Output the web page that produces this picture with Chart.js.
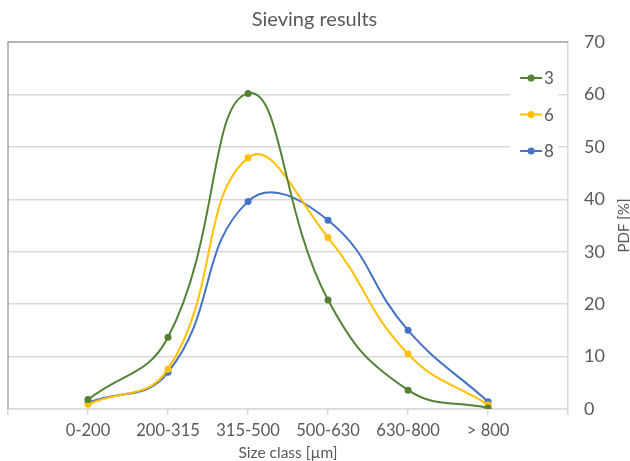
<!DOCTYPE html>
<html>
<head>
<meta charset="utf-8">
<script src="https://cdn.jsdelivr.net/npm/chart.js@4/dist/chart.umd.min.js"></script>
<style>
    html, body { margin: 0; padding: 0; background: #fff; }
    #wrap { width: 630px; height: 461px; }
</style>
</head>
<body>
<div id="wrap"><canvas id="chart"></canvas></div>
<script>
// Data
const sizeClasses = ['0-200', '200-315', '315-500', '500-630', '630-800', '> 800'];
const seriesNames = ['3', '6', '8'];
const pdf3 = [1.8, 13.7, 60.2, 20.8, 3.6, 0.2];
const pdf6 = [0.9, 7.6, 47.9, 32.7, 10.5, 0.8];
const pdf8 = [1.2, 7.0, 39.6, 36.0, 15.0, 1.4];
const yTicks = [0, 10, 20, 30, 40, 50, 60, 70];

const colors = ['#548235', '#FFC000', '#4472C4'];
const textColor = '#595959';
const fontFamily = 'Lato, "Open Sans", sans-serif';

function toPoints(values) {
    return values.map((v, i) => ({ x: i, y: v }));
}

// Frame around the plot, like the Excel chart
const framePlugin = {
    id: 'frame',
    beforeDatasetsDraw(chart) {
        const { ctx, chartArea: a } = chart;
        ctx.save();
        ctx.lineWidth = 1.5;
        ctx.strokeStyle = '#a6a6a6';
        ctx.beginPath();
        ctx.moveTo(a.left, a.bottom);
        ctx.lineTo(a.left, a.top);
        ctx.lineTo(a.right, a.top);
        ctx.stroke();
        ctx.restore();
    }
};

// Legend drawn inside the plot, top right
const innerLegend = {
    id: 'innerLegend',
    afterDraw(chart) {
        const { ctx, chartArea: a } = chart;
        const x0 = a.right - 54;
        ctx.save();
        ctx.fillStyle = '#fff';
        ctx.fillRect(x0 - 4, a.top + 20, 48, 108);
        chart.data.datasets.forEach((ds, i) => {
            const y = a.top + 36 + i * 36.5;
            ctx.strokeStyle = ds.borderColor;
            ctx.lineWidth = 2;
            ctx.beginPath();
            ctx.moveTo(x0 + 6, y);
            ctx.lineTo(x0 + 28, y);
            ctx.stroke();
            ctx.fillStyle = ds.borderColor;
            ctx.beginPath();
            ctx.arc(x0 + 17, y, 3.5, 0, Math.PI * 2);
            ctx.fill();
            ctx.fillStyle = textColor;
            ctx.font = '17px ' + fontFamily;
            ctx.textBaseline = 'middle';
            ctx.fillText(ds.label, x0 + 30, y + 1);
        });
        ctx.restore();
    }
};

// Right-side axis title, reading bottom to top
const yTitle = {
    id: 'yTitle',
    afterDraw(chart) {
        const { ctx, chartArea: a } = chart;
        ctx.save();
        ctx.translate(chart.width - 6, (a.top + a.bottom) / 2);
        ctx.rotate(-Math.PI / 2);
        ctx.fillStyle = textColor;
        ctx.font = '15px ' + fontFamily;
        ctx.textAlign = 'center';
        ctx.textBaseline = 'middle';
        ctx.fillText('PDF [%]', 0, 0);
        ctx.restore();
    }
};

const seriesValues = [pdf3, pdf6, pdf8];

const ctx = document.getElementById('chart').getContext('2d');
new Chart(ctx, {
    type: 'line',
    data: {
        datasets: seriesNames.map((name, i) => ({
            label: name,
            data: toPoints(seriesValues[i]),
            borderColor: colors[i],
            backgroundColor: colors[i],
            borderWidth: 2,
            pointRadius: 3.5,
            pointBorderWidth: 0,
            tension: 0.45,
            fill: false
        }))
    },
    options: {
        responsive: true,
        maintainAspectRatio: false,
        animation: false,
        layout: {
            padding: { left: 8, right: 9, top: 0, bottom: 0 }
        },
        plugins: {
            legend: { display: false },
            tooltip: { enabled: false },
            title: {
                display: true,
                text: 'Sieving results',
                color: textColor,
                font: { family: fontFamily, size: 20, weight: 'normal' },
                padding: { top: 8, bottom: 10 }
            }
        },
        scales: {
            x: {
                type: 'linear',
                min: -1,
                max: sizeClasses.length,
                afterBuildTicks(scale) {
                    scale.ticks = [];
                    for (let v = -1; v <= sizeClasses.length; v++) {
                        scale.ticks.push({ value: v });
                    }
                },
                grid: {
                    drawOnChartArea: false,
                    drawTicks: true,
                    tickLength: 6,
                    color: '#d9d9d9',
                    lineWidth: 1.5
                },
                border: { color: '#d9d9d9', width: 1.5 },
                ticks: {
                    color: textColor,
                    font: { family: fontFamily, size: 16.5, lineHeight: 1.0 },
                    padding: 7,
                    maxRotation: 0,
                    autoSkip: false,
                    callback: (value) => sizeClasses[value] || ''
                },
                title: {
                    display: true,
                    text: 'Size class [µm]',
                    color: textColor,
                    font: { family: fontFamily, size: 15.5, lineHeight: 1.0 },
                    padding: { top: 0, bottom: 0 }
                }
            },
            y: {
                position: 'right',
                min: yTicks[0],
                max: yTicks[yTicks.length - 1],
                afterBuildTicks(scale) {
                    scale.ticks = yTicks.map(v => ({ value: v }));
                },
                grid: {
                    drawTicks: false,
                    color: '#d9d9d9',
                    lineWidth: 1.5
                },
                border: { color: '#d9d9d9', width: 1.5 },
                ticks: {
                    color: textColor,
                    font: { family: fontFamily, size: 18 },
                    padding: 16
                }
            }
        }
    },
    plugins: [framePlugin, innerLegend, yTitle]
});
</script>
</body>
</html>
